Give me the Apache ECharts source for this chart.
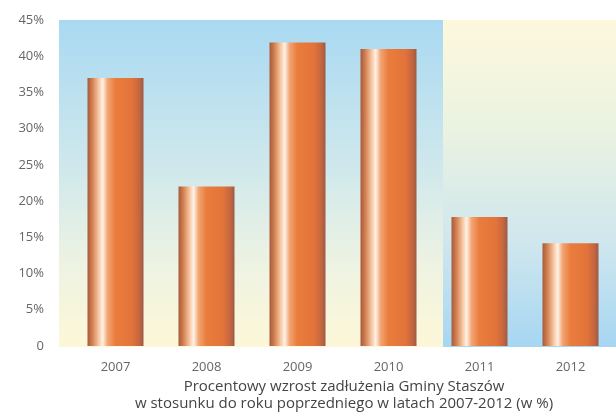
<!DOCTYPE html>
<html><head><meta charset="utf-8">
<script src="https://cdn.jsdelivr.net/npm/echarts@6/dist/echarts.min.js"></script>
<style>html,body{margin:0;padding:0;background:#fff}#c{width:616px;height:415px}</style>
</head><body><div id="c"></div>
<script>
const categories = ['2007','2008','2009','2010','2011','2012'];
const values = [37.0, 22.0, 41.9, 41.0, 17.8, 14.2];
const yTicks = [0,5,10,15,20,25,30,35,40,45];
const titleLines = ['Procentowy wzrost zadłużenia Gminy Staszów','w stosunku do roku poprzedniego w latach 2007-2012 (w %)'];

const chart = echarts.init(document.getElementById('c'));
const barGrad = new echarts.graphic.LinearGradient(0,0,1,0,[
  {offset:0, color:'#a65a3c'},
  {offset:0.08, color:'#d07c4c'},
  {offset:0.2, color:'#f7c7a3'},
  {offset:0.27, color:'#fff3e6'},
  {offset:0.36, color:'#f2a473'},
  {offset:0.5, color:'#ea7d3d'},
  {offset:0.8, color:'#e2733a'},
  {offset:0.93, color:'#c2663f'},
  {offset:1, color:'#9c5a47'}
]);
chart.setOption({
  animation:false,
  textStyle:{fontFamily:'Open Sans'},
  grid:{left:70, right:-1, top:20, bottom:69},
  graphic:[
    {type:'rect', z:-10, silent:true, shape:{x:59,y:20,width:384,height:327},
     style:{fill:new echarts.graphic.LinearGradient(0,0,0,1,[
       {offset:0,color:'#a9d9f2'},{offset:0.45,color:'#cfe8ec'},{offset:0.75,color:'#eef3e2'},{offset:1,color:'#fdf7d8'}])}},
    {type:'rect', z:-10, silent:true, shape:{x:443,y:20,width:173,height:327},
     style:{fill:new echarts.graphic.LinearGradient(0,0,0,1,[
       {offset:0,color:'#fdf8dc'},{offset:0.35,color:'#e9f2e2'},{offset:0.7,color:'#cde6ee'},{offset:1,color:'#a6d6f2'}])}},
    {type:'text', x:344, y:387, style:{text:titleLines[0], fill:'#444', font:'15px "Open Sans"', textAlign:'center', textVerticalAlign:'middle'}},
    {type:'text', x:344, y:404, style:{text:titleLines[1], fill:'#444', font:'15px "Open Sans"', textAlign:'center', textVerticalAlign:'middle'}}
  ],
  xAxis:{type:'category', data:categories,
    axisLine:{show:false}, axisTick:{show:false},
    axisLabel:{color:'#666', fontSize:13, margin:15}},
  yAxis:{type:'value', min:yTicks[0], max:yTicks[yTicks.length-1], interval:5,
    splitLine:{show:false}, axisLine:{show:false}, axisTick:{show:false},
    axisLabel:{color:'#666', fontSize:13, margin:26, formatter:v=> v===0?'0':v+'%'}},
  series:[{type:'bar', data:values, barWidth:56,
    itemStyle:{color:barGrad}}]
});
</script></body></html>
